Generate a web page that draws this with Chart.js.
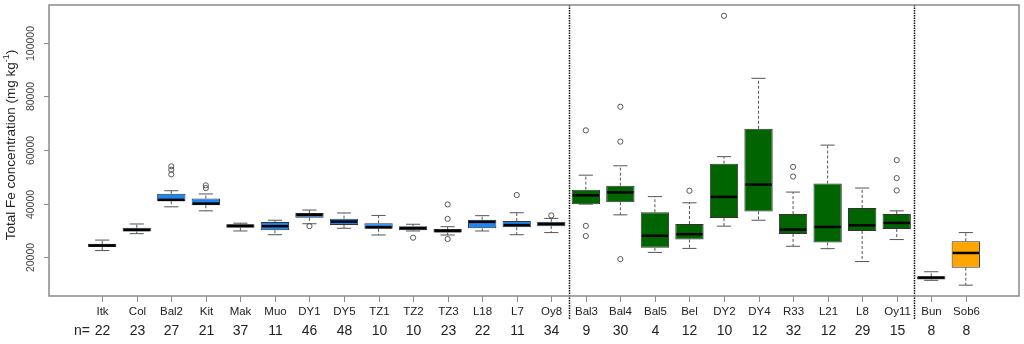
<!DOCTYPE html>
<html>
<head>
<meta charset="utf-8">
<script src="https://cdn.jsdelivr.net/npm/chart.js@4/dist/chart.umd.min.js"></script>
<style>
  html, body { margin: 0; padding: 0; background: #fff; }
  #wrap { width: 1024px; height: 344px; }
</style>
</head>
<body>
<div id="wrap"><canvas id="feChart" width="1024" height="344"></canvas></div>
<script>
// Sites and sample counts
const categories = ['Itk', 'Col', 'Bal2', 'Kit', 'Mak', 'Muo', 'DY1', 'DY5', 'TZ1', 'TZ2', 'TZ3', 'L18', 'L7', 'Oy8',
                    'Bal3', 'Bal4', 'Bal5', 'Bel', 'DY2', 'DY4', 'R33', 'L21', 'L8', 'Oy11',
                    'Bun', 'Sob6'];
const nCounts = [22, 23, 27, 21, 37, 11, 46, 48, 10, 10, 23, 22, 11, 34,
                 9, 30, 4, 12, 10, 12, 32, 12, 29, 15,
                 8, 8];
// 0 = blue, 1 = green, 2 = orange
const groups = [0, 0, 0, 0, 0, 0, 0, 0, 0, 0, 0, 0, 0, 0,
                1, 1, 1, 1, 1, 1, 1, 1, 1, 1,
                2, 2];
const groupColors = ['#1e86f2', '#006400', '#ffa500'];

// Box statistics (mg kg-1)
const whiskerLow  = [22500, 28800, 38800, 37300, 29800, 28400, 32500, 30800, 28300, 29800, 28300, 29800, 28400, 29200,
                     39800, 35800, 21800, 23300, 31600, 33800, 24100, 23200, 18400, 26600,
                     11400, 9600];
const q1          = [23800, 29600, 40900, 39400, 31000, 30100, 34700, 32000, 30600, 30100, 29200, 30800, 31200, 31600,
                     39800, 40500, 23500, 26600, 34600, 37100, 28700, 25500, 29800, 30500,
                     11700, 16100];
const median      = [24400, 30200, 41400, 40000, 31700, 31600, 35800, 33300, 31200, 30800, 29800, 33200, 32000, 32400,
                     43100, 44200, 28000, 28600, 42500, 47100, 30300, 31300, 31900, 32800,
                     12400, 21600];
const q3          = [25000, 31000, 43700, 41900, 32300, 33100, 36500, 34400, 32700, 31600, 30500, 34000, 33500, 33200,
                     45200, 46700, 36800, 32400, 54900, 67900, 36100, 47500, 38400, 36100,
                     12900, 26000];
const whiskerHigh = [26400, 32400, 44800, 43600, 32700, 33800, 37600, 36500, 35600, 32300, 31400, 35500, 36600, 34500,
                     50600, 54100, 42600, 40300, 57500, 86700, 44300, 61800, 45800, 37300,
                     14600, 29200];
const outliers = [[], [], [50900, 52600, 53900], [45800, 46800], [], [], [31600], [], [], [27300],
                  [26800, 34300, 39700], [], [43200], [35600],
                  [27900, 31700, 67300], [19300, 63100, 76100], [], [44800], [110000], [], [50100, 53700], [], [], [44900, 49500, 56200],
                  [], []];

const yTicks = [20000, 40000, 60000, 80000, 100000];
const separators = [14.5, 24.5];
const yTitle = 'Total Fe concentration (mg kg';

const FONT = '"Liberation Sans", Arial, sans-serif';

// Whiskers, caps and medians drawn through the chart scales
const boxExtras = {
    id: 'boxExtras',
    beforeDatasetsDraw(chart) {
        const { ctx, scales: { x, y } } = chart;
        const meta = chart.getDatasetMeta(0);
        ctx.save();
        meta.data.forEach((bar, i) => {
            const cx = x.getPixelForValue(i + 1);
            const cap = bar.width * 0.25;
            const yHi = y.getPixelForValue(whiskerHigh[i]);
            const yLo = y.getPixelForValue(whiskerLow[i]);
            ctx.strokeStyle = '#555';
            ctx.lineWidth = 1;
            ctx.setLineDash([3, 2]);
            ctx.beginPath();
            ctx.moveTo(cx, y.getPixelForValue(q3[i]));
            ctx.lineTo(cx, yHi);
            ctx.moveTo(cx, y.getPixelForValue(q1[i]));
            ctx.lineTo(cx, yLo);
            ctx.stroke();
            ctx.setLineDash([]);
            ctx.beginPath();
            ctx.moveTo(cx - cap, yHi);
            ctx.lineTo(cx + cap, yHi);
            ctx.moveTo(cx - cap, yLo);
            ctx.lineTo(cx + cap, yLo);
            ctx.stroke();
        });
        ctx.restore();
    },
    afterDatasetsDraw(chart) {
        const { ctx, scales: { x, y } } = chart;
        const meta = chart.getDatasetMeta(0);
        ctx.save();
        ctx.strokeStyle = '#000';
        ctx.lineWidth = 2.5;
        meta.data.forEach((bar, i) => {
            const cx = x.getPixelForValue(i + 1);
            const half = bar.width / 2;
            const my = y.getPixelForValue(median[i]);
            ctx.beginPath();
            ctx.moveTo(cx - half + 1, my);
            ctx.lineTo(cx + half - 1, my);
            ctx.stroke();
        });
        ctx.restore();
    }
};

// Frame, axes, labels and group separators
const axesFrame = {
    id: 'axesFrame',
    afterDraw(chart) {
        const { ctx, chartArea: area, scales: { x, y } } = chart;
        ctx.save();

        // separators
        ctx.strokeStyle = '#111';
        ctx.lineWidth = 1.5;
        ctx.setLineDash([1.5, 1]);
        separators.forEach(s => {
            const sx = Math.round(x.getPixelForValue(s)) + 0.5;
            ctx.beginPath();
            ctx.moveTo(sx, area.top);
            ctx.lineTo(sx, 319);
            ctx.stroke();
        });
        ctx.setLineDash([]);

        // frame
        ctx.strokeStyle = '#8a8a8a';
        ctx.lineWidth = 1.5;
        ctx.strokeRect(area.left, area.top, area.right - area.left, area.bottom - area.top);

        // y ticks and rotated labels
        ctx.lineWidth = 1;
        ctx.fillStyle = '#444';
        ctx.font = '10.5px ' + FONT;
        ctx.textAlign = 'center';
        ctx.textBaseline = 'middle';
        yTicks.forEach(v => {
            const py = Math.round(y.getPixelForValue(v)) + 0.5;
            ctx.beginPath();
            ctx.moveTo(area.left, py);
            ctx.lineTo(area.left - 5, py);
            ctx.stroke();
            ctx.save();
            ctx.translate(31, py);
            ctx.rotate(-Math.PI / 2);
            ctx.fillText(String(v), 0, 0);
            ctx.restore();
        });

        // x ticks, site names and n row
        categories.forEach((c, i) => {
            const px = Math.round(x.getPixelForValue(i + 1)) + 0.5;
            ctx.beginPath();
            ctx.moveTo(px, area.bottom);
            ctx.lineTo(px, area.bottom + 6);
            ctx.stroke();
            ctx.fillStyle = '#222';
            ctx.font = '11.5px ' + FONT;
            ctx.fillText(c, px, 312);
            ctx.font = '14px ' + FONT;
            ctx.fillText(String(nCounts[i]), px, 331);
        });
        ctx.textAlign = 'right';
        ctx.font = '14px ' + FONT;
        ctx.fillText('n=', 90, 331);

        // y title with superscript
        ctx.save();
        ctx.translate(11, 145);
        ctx.rotate(-Math.PI / 2);
        ctx.textAlign = 'left';
        ctx.textBaseline = 'middle';
        ctx.fillStyle = '#222';
        ctx.font = '13.5px ' + FONT;
        const w1 = ctx.measureText(yTitle).width;
        ctx.font = '9px ' + FONT;
        const w2 = ctx.measureText('-1').width;
        ctx.font = '13.5px ' + FONT;
        const w3 = ctx.measureText(')').width;
        let start = -(w1 + w2 + w3) / 2;
        ctx.fillText(yTitle, start, 0);
        ctx.font = '9px ' + FONT;
        ctx.fillText('-1', start + w1, -4);
        ctx.font = '13.5px ' + FONT;
        ctx.fillText(')', start + w1 + w2, 0);
        ctx.restore();

        ctx.restore();
    }
};

const boxData = categories.map((c, i) => ({ x: i + 1, y: [q1[i], q3[i]] }));
const outlierData = [];
outliers.forEach((list, i) => list.forEach(v => outlierData.push({ x: i + 1, y: v })));

new Chart(document.getElementById('feChart').getContext('2d'), {
    type: 'bar',
    data: {
        datasets: [{
            type: 'bar',
            data: boxData,
            backgroundColor: groups.map(g => groupColors[g]),
            borderColor: '#333',
            borderWidth: 1,
            borderSkipped: false,
            barPercentage: 0.82,
            categoryPercentage: 1.0
        }, {
            type: 'scatter',
            data: outlierData,
            pointStyle: 'circle',
            pointRadius: 2.6,
            pointBorderWidth: 1,
            pointBorderColor: '#555',
            pointBackgroundColor: 'rgba(255,255,255,0)'
        }]
    },
    options: {
        responsive: false,
        animation: false,
        events: [],
        layout: { padding: { left: 49, right: 3, top: 2, bottom: 48 } },
        plugins: {
            legend: { display: false },
            tooltip: { enabled: false }
        },
        scales: {
            x: { type: 'linear', min: -0.54, max: 27.54, offset: false, grid: { offset: false }, display: false },
            y: { type: 'linear', min: 5560, max: 114030, display: false }
        }
    },
    plugins: [boxExtras, axesFrame]
});
</script>
</body>
</html>
